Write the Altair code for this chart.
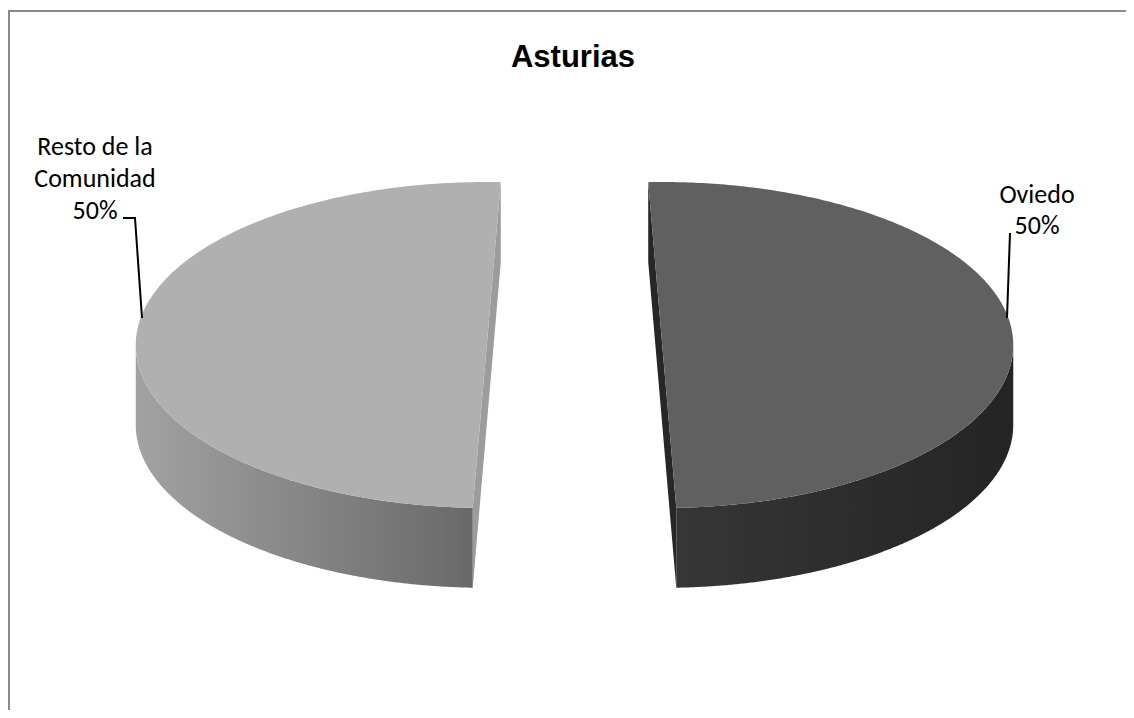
import numpy as np
import pandas as pd
import altair as alt

# ---------------- data ----------------
TITLE = "Asturias"
CATEGORIES = ["Oviedo", "Resto de la Comunidad"]
VALUES = [50, 50]
LABEL_LINES = [["Oviedo"], ["Resto de la", "Comunidad"]]

# ---------------- style / layout ----------------
PAD = 24
W, H = 1134 - 16 - PAD, 718 - 16 - PAD
CX_PX, CY_PX = 574.5 - 8 - PAD, 345.0 - 8 - PAD   # pie centre in plot pixels
RX_PX, RY_PX = 351.0, 163.0      # ellipse radii in pixels (tilted disc)
EXPLODE = 0.25                   # slice offset, in radius units
DEPTH = 0.49                     # thickness, in vertical radius units
TILT = 0.04                      # perspective lean of the cut faces
TOP_COLORS = ["#606060", "#b0b0b0"]
CUT_COLORS = ["#272727", "#9c9c9c"]
SIDE_STOPS = [("#363636", "#242424"), ("#a2a2a2", "#696969")]
N = 300

def px(v):      # page coordinate -> plot coordinate
    return v - 8 - PAD

xdom = [float(-CX_PX / RX_PX), float((W - CX_PX) / RX_PX)]
ydom = [float(-(H - CY_PX) / RY_PX), float(CY_PX / RY_PX)]
xs = alt.Scale(domain=xdom, nice=False, zero=False)
ys = alt.Scale(domain=ydom, nice=False, zero=False)

total = float(sum(VALUES))
shares = [v / total for v in VALUES]

top_rows, cut_rows, side_rows = [], [], []
start = 0.0
yi = 1.0 / np.sqrt(1.0 + TILT ** 2)
for k, (cat, sh) in enumerate(zip(CATEGORIES, shares)):
    mid = 2 * np.pi * (start + sh / 2)          # clockwise from 12 o'clock
    start += sh
    s = float(np.sign(np.sin(mid)))             # +1 right half, -1 left half
    cx = float(EXPLODE * np.sin(mid))

    def cut(y, cx=cx, s=s):
        return cx - s * TILT * y

    # top face (horizontal band per y)
    t = np.linspace(-np.pi / 2, np.pi / 2, N)
    y = np.sin(t)
    rl, rr = cx - np.cos(t), cx + np.cos(t)
    c = np.clip(cut(y), rl, rr)
    x1, x2 = (rl, c) if s < 0 else (c, rr)
    for i in range(N):
        top_rows.append({"slice": cat, "yv": float(y[i]), "xa": float(x1[i]), "xb": float(x2[i])})

    # cut face (parallelogram)
    yy = np.linspace(-yi - DEPTH, yi, N)
    a = cut(np.clip(yy, -yi, yi))
    b = cut(np.clip(yy + DEPTH, -yi, yi))
    for i in range(N):
        cut_rows.append({"slice": cat, "yv": float(yy[i]),
                         "xa": float(min(a[i], b[i])), "xb": float(max(a[i], b[i]))})

    # outer side (vertical band per x)
    t2 = np.linspace(0, np.arccos(TILT * yi), N)
    xo = cx + s * np.cos(t2)
    ytop = -np.sin(t2)
    for i in range(N):
        side_rows.append({"slice": cat, "xv": float(xo[i]), "ya": float(ytop[i]),
                          "yb": float(ytop[i] - DEPTH)})

top_df = pd.DataFrame(top_rows)
cut_df = pd.DataFrame(cut_rows)
side_df = pd.DataFrame(side_rows)


def hband(df, colors):
    return alt.Chart(df).mark_area(orient="horizontal", interpolate="linear").encode(
        y=alt.Y("yv:Q", scale=ys, axis=None),
        x=alt.X("xa:Q", scale=xs, axis=None, stack=None),
        x2="xb:Q",
        color=alt.Color("slice:N", scale=alt.Scale(domain=CATEGORIES, range=colors), legend=None),
    )


cut_layer = hband(cut_df, CUT_COLORS)
top_layer = hband(top_df, TOP_COLORS)

side_layers = []
for cat, (c0, c1) in zip(CATEGORIES, SIDE_STOPS):
    grad = alt.Gradient(gradient="linear",
                        stops=[alt.GradientStop(color=c0, offset=0),
                               alt.GradientStop(color=c1, offset=1)],
                        x1=0, x2=1, y1=0, y2=0)
    side_layers.append(
        alt.Chart(side_df[side_df["slice"] == cat]).mark_area(orient="vertical", color=grad).encode(
            x=alt.X("xv:Q", scale=xs, axis=None),
            y=alt.Y("ya:Q", scale=ys, axis=None, stack=None),
            y2="yb:Q",
        )
    )

# ---------------- labels ----------------
one = pd.DataFrame({"a": [0]})
label_text = ["\n".join(LABEL_LINES[k] + [f"{round(sh * 100)}%"]) for k, sh in enumerate(shares)]
LABEL_POS = [(1037, 203, 31), (95, 155, 32)]     # page coords of first baseline

labels = []
for txt, (lx, ly, lh) in zip(label_text, LABEL_POS):
    labels.append(
        alt.Chart(one).mark_text(text=txt, lineBreak="\n", lineHeight=lh, font="Carlito, Lato",
                                 fontSize=26, color="#000000", align="center",
                                 baseline="alphabetic").encode(x=alt.value(px(lx)), y=alt.value(px(ly)))
    )

title = alt.Chart(one).mark_text(text=TITLE, font="Liberation Sans", fontWeight="bold",
                                 fontSize=31, color="#000000", align="center",
                                 baseline="alphabetic").encode(x=alt.value(px(573)), y=alt.value(px(67)))

def seg(x0, y0, x1, y1, color="#000000", w=2):
    return alt.Chart(one).mark_rule(color=color, strokeWidth=w).encode(
        x=alt.value(px(x0)), x2=alt.value(px(x1)), y=alt.value(px(y0)), y2=alt.value(px(y1)))

leaders = [seg(123, 218, 136, 218), seg(135, 218, 142, 318), seg(1010, 233, 1007, 318)]
frame = [seg(9, 11, 1126, 11, "#8a8a8a", 2), seg(9, 10, 9, 710, "#8a8a8a", 2)]

chart = alt.layer(cut_layer, *side_layers, top_layer, *leaders, *labels, title, *frame).resolve_scale(
    color="independent"
).properties(
    width=W, height=H,
    padding={"left": PAD, "top": PAD, "right": 0, "bottom": 0},
    autosize=alt.AutoSizeParams(type="none"),
    background="#ffffff",
).configure_view(stroke=None)

chart.save("out.html", embed_options={"renderer": "svg", "actions": False})
